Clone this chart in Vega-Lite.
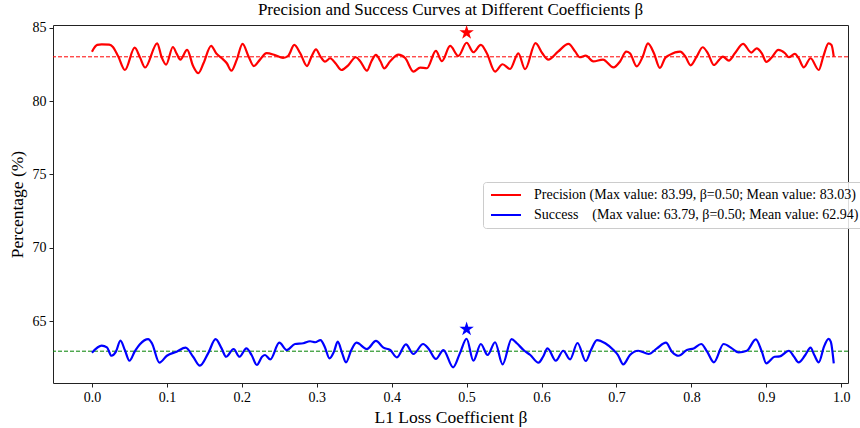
{
  "$schema": "https://vega.github.io/schema/vega-lite/v6.json",
  "autosize": {"type": "none"},
  "width": 795,
  "height": 358,
  "padding": {"left": 53, "top": 25, "right": 12, "bottom": 45},
  "config": {
    "font": "Liberation Serif",
    "view": {"stroke": "#222", "strokeWidth": 1},
    "axis": {"grid": false, "domain": false, "tickColor": "#222", "tickSize": 4, "labelColor": "#000", "titleColor": "#000", "labelFontSize": 14, "titleFontSize": 17.5, "titleFontWeight": "normal", "labelFont": "Liberation Serif", "titleFont": "Liberation Serif"},
    "legend": {"labelFont": "Liberation Serif"}
  },
  "title": {"text": "Precision and Success Curves at Different Coefficients β", "fontSize": 17, "fontWeight": "normal", "font": "Liberation Serif", "color": "#000", "offset": 2, "anchor": "middle"},
  "datasets": {
    "curves": [
      {"b":0.000,"v":83.38,"s":"Precision"},{"b":0.007,"v":83.84,"s":"Precision"},{"b":0.013,"v":83.88,"s":"Precision"},{"b":0.023,"v":83.86,"s":"Precision"},{"b":0.028,"v":83.70,"s":"Precision"},{"b":0.035,"v":83.06,"s":"Precision"},{"b":0.044,"v":82.13,"s":"Precision"},{"b":0.057,"v":83.65,"s":"Precision"},{"b":0.064,"v":83.00,"s":"Precision"},{"b":0.071,"v":82.30,"s":"Precision"},{"b":0.087,"v":83.95,"s":"Precision"},{"b":0.093,"v":83.00,"s":"Precision"},{"b":0.099,"v":82.50,"s":"Precision"},{"b":0.108,"v":83.70,"s":"Precision"},{"b":0.113,"v":83.25,"s":"Precision"},{"b":0.118,"v":82.84,"s":"Precision"},{"b":0.127,"v":83.50,"s":"Precision"},{"b":0.135,"v":82.40,"s":"Precision"},{"b":0.142,"v":81.91,"s":"Precision"},{"b":0.149,"v":82.60,"s":"Precision"},{"b":0.159,"v":83.77,"s":"Precision"},{"b":0.166,"v":83.25,"s":"Precision"},{"b":0.173,"v":82.95,"s":"Precision"},{"b":0.180,"v":82.59,"s":"Precision"},{"b":0.186,"v":82.08,"s":"Precision"},{"b":0.193,"v":82.80,"s":"Precision"},{"b":0.201,"v":83.91,"s":"Precision"},{"b":0.209,"v":83.05,"s":"Precision"},{"b":0.216,"v":82.40,"s":"Precision"},{"b":0.224,"v":82.82,"s":"Precision"},{"b":0.233,"v":83.28,"s":"Precision"},{"b":0.244,"v":83.15,"s":"Precision"},{"b":0.255,"v":82.95,"s":"Precision"},{"b":0.262,"v":83.10,"s":"Precision"},{"b":0.270,"v":83.84,"s":"Precision"},{"b":0.278,"v":83.27,"s":"Precision"},{"b":0.287,"v":82.40,"s":"Precision"},{"b":0.293,"v":83.04,"s":"Precision"},{"b":0.299,"v":83.54,"s":"Precision"},{"b":0.305,"v":83.04,"s":"Precision"},{"b":0.311,"v":82.70,"s":"Precision"},{"b":0.318,"v":82.93,"s":"Precision"},{"b":0.325,"v":82.59,"s":"Precision"},{"b":0.333,"v":82.13,"s":"Precision"},{"b":0.342,"v":82.45,"s":"Precision"},{"b":0.352,"v":83.00,"s":"Precision"},{"b":0.358,"v":82.73,"s":"Precision"},{"b":0.367,"v":82.08,"s":"Precision"},{"b":0.373,"v":82.73,"s":"Precision"},{"b":0.379,"v":83.16,"s":"Precision"},{"b":0.385,"v":82.73,"s":"Precision"},{"b":0.390,"v":82.24,"s":"Precision"},{"b":0.398,"v":82.73,"s":"Precision"},{"b":0.409,"v":83.18,"s":"Precision"},{"b":0.418,"v":82.95,"s":"Precision"},{"b":0.429,"v":82.02,"s":"Precision"},{"b":0.438,"v":82.29,"s":"Precision"},{"b":0.447,"v":82.25,"s":"Precision"},{"b":0.459,"v":83.43,"s":"Precision"},{"b":0.467,"v":82.73,"s":"Precision"},{"b":0.478,"v":83.77,"s":"Precision"},{"b":0.489,"v":83.09,"s":"Precision"},{"b":0.500,"v":83.99,"s":"Precision"},{"b":0.509,"v":83.34,"s":"Precision"},{"b":0.519,"v":83.84,"s":"Precision"},{"b":0.527,"v":83.27,"s":"Precision"},{"b":0.538,"v":82.02,"s":"Precision"},{"b":0.548,"v":82.52,"s":"Precision"},{"b":0.558,"v":82.20,"s":"Precision"},{"b":0.569,"v":83.27,"s":"Precision"},{"b":0.578,"v":82.18,"s":"Precision"},{"b":0.592,"v":83.96,"s":"Precision"},{"b":0.601,"v":83.27,"s":"Precision"},{"b":0.609,"v":82.84,"s":"Precision"},{"b":0.622,"v":83.38,"s":"Precision"},{"b":0.636,"v":83.91,"s":"Precision"},{"b":0.645,"v":83.38,"s":"Precision"},{"b":0.651,"v":83.00,"s":"Precision"},{"b":0.659,"v":83.11,"s":"Precision"},{"b":0.669,"v":82.72,"s":"Precision"},{"b":0.682,"v":82.84,"s":"Precision"},{"b":0.696,"v":82.31,"s":"Precision"},{"b":0.705,"v":82.73,"s":"Precision"},{"b":0.713,"v":83.38,"s":"Precision"},{"b":0.718,"v":83.27,"s":"Precision"},{"b":0.727,"v":82.38,"s":"Precision"},{"b":0.735,"v":83.04,"s":"Precision"},{"b":0.742,"v":83.95,"s":"Precision"},{"b":0.750,"v":83.27,"s":"Precision"},{"b":0.758,"v":82.27,"s":"Precision"},{"b":0.765,"v":82.95,"s":"Precision"},{"b":0.771,"v":83.16,"s":"Precision"},{"b":0.785,"v":83.38,"s":"Precision"},{"b":0.792,"v":83.04,"s":"Precision"},{"b":0.799,"v":82.45,"s":"Precision"},{"b":0.807,"v":83.04,"s":"Precision"},{"b":0.815,"v":83.68,"s":"Precision"},{"b":0.822,"v":83.27,"s":"Precision"},{"b":0.830,"v":82.47,"s":"Precision"},{"b":0.837,"v":82.82,"s":"Precision"},{"b":0.842,"v":83.04,"s":"Precision"},{"b":0.850,"v":82.77,"s":"Precision"},{"b":0.858,"v":83.27,"s":"Precision"},{"b":0.869,"v":83.91,"s":"Precision"},{"b":0.880,"v":83.32,"s":"Precision"},{"b":0.887,"v":83.61,"s":"Precision"},{"b":0.894,"v":83.27,"s":"Precision"},{"b":0.900,"v":82.68,"s":"Precision"},{"b":0.908,"v":83.04,"s":"Precision"},{"b":0.916,"v":83.50,"s":"Precision"},{"b":0.925,"v":83.27,"s":"Precision"},{"b":0.930,"v":83.00,"s":"Precision"},{"b":0.938,"v":83.23,"s":"Precision"},{"b":0.943,"v":82.95,"s":"Precision"},{"b":0.950,"v":82.31,"s":"Precision"},{"b":0.959,"v":82.93,"s":"Precision"},{"b":0.970,"v":82.13,"s":"Precision"},{"b":0.976,"v":83.04,"s":"Precision"},{"b":0.983,"v":83.95,"s":"Precision"},{"b":0.987,"v":83.84,"s":"Precision"},{"b":0.990,"v":83.04,"s":"Precision"},
      {"b":0.000,"v":62.84,"s":"Success"},{"b":0.013,"v":63.32,"s":"Success"},{"b":0.020,"v":63.20,"s":"Success"},{"b":0.026,"v":62.63,"s":"Success"},{"b":0.032,"v":62.91,"s":"Success"},{"b":0.038,"v":63.66,"s":"Success"},{"b":0.044,"v":63.00,"s":"Success"},{"b":0.050,"v":62.29,"s":"Success"},{"b":0.057,"v":62.91,"s":"Success"},{"b":0.064,"v":63.41,"s":"Success"},{"b":0.075,"v":63.76,"s":"Success"},{"b":0.080,"v":63.48,"s":"Success"},{"b":0.090,"v":62.16,"s":"Success"},{"b":0.100,"v":62.63,"s":"Success"},{"b":0.113,"v":62.91,"s":"Success"},{"b":0.125,"v":63.18,"s":"Success"},{"b":0.135,"v":62.56,"s":"Success"},{"b":0.144,"v":61.95,"s":"Success"},{"b":0.155,"v":62.79,"s":"Success"},{"b":0.165,"v":63.76,"s":"Success"},{"b":0.173,"v":63.13,"s":"Success"},{"b":0.179,"v":62.56,"s":"Success"},{"b":0.189,"v":63.09,"s":"Success"},{"b":0.197,"v":62.56,"s":"Success"},{"b":0.206,"v":63.13,"s":"Success"},{"b":0.213,"v":62.68,"s":"Success"},{"b":0.220,"v":62.00,"s":"Success"},{"b":0.227,"v":62.56,"s":"Success"},{"b":0.231,"v":62.68,"s":"Success"},{"b":0.238,"v":62.38,"s":"Success"},{"b":0.250,"v":63.52,"s":"Success"},{"b":0.260,"v":63.02,"s":"Success"},{"b":0.271,"v":63.43,"s":"Success"},{"b":0.282,"v":63.48,"s":"Success"},{"b":0.291,"v":63.62,"s":"Success"},{"b":0.298,"v":63.55,"s":"Success"},{"b":0.305,"v":63.70,"s":"Success"},{"b":0.311,"v":63.20,"s":"Success"},{"b":0.317,"v":62.45,"s":"Success"},{"b":0.323,"v":62.91,"s":"Success"},{"b":0.328,"v":63.59,"s":"Success"},{"b":0.334,"v":62.79,"s":"Success"},{"b":0.339,"v":62.18,"s":"Success"},{"b":0.346,"v":63.00,"s":"Success"},{"b":0.353,"v":63.52,"s":"Success"},{"b":0.367,"v":63.09,"s":"Success"},{"b":0.379,"v":63.64,"s":"Success"},{"b":0.389,"v":63.18,"s":"Success"},{"b":0.398,"v":63.02,"s":"Success"},{"b":0.407,"v":62.52,"s":"Success"},{"b":0.419,"v":63.41,"s":"Success"},{"b":0.429,"v":62.75,"s":"Success"},{"b":0.442,"v":63.43,"s":"Success"},{"b":0.449,"v":63.13,"s":"Success"},{"b":0.459,"v":62.41,"s":"Success"},{"b":0.469,"v":63.02,"s":"Success"},{"b":0.482,"v":61.84,"s":"Success"},{"b":0.491,"v":62.79,"s":"Success"},{"b":0.500,"v":63.79,"s":"Success"},{"b":0.509,"v":62.29,"s":"Success"},{"b":0.519,"v":63.43,"s":"Success"},{"b":0.528,"v":62.68,"s":"Success"},{"b":0.538,"v":63.55,"s":"Success"},{"b":0.548,"v":62.04,"s":"Success"},{"b":0.560,"v":63.76,"s":"Success"},{"b":0.567,"v":63.48,"s":"Success"},{"b":0.576,"v":63.02,"s":"Success"},{"b":0.585,"v":62.68,"s":"Success"},{"b":0.596,"v":62.16,"s":"Success"},{"b":0.602,"v":62.56,"s":"Success"},{"b":0.608,"v":63.13,"s":"Success"},{"b":0.619,"v":62.29,"s":"Success"},{"b":0.629,"v":62.97,"s":"Success"},{"b":0.638,"v":62.38,"s":"Success"},{"b":0.648,"v":63.50,"s":"Success"},{"b":0.659,"v":62.27,"s":"Success"},{"b":0.666,"v":63.02,"s":"Success"},{"b":0.674,"v":63.70,"s":"Success"},{"b":0.685,"v":63.48,"s":"Success"},{"b":0.696,"v":63.02,"s":"Success"},{"b":0.702,"v":62.68,"s":"Success"},{"b":0.709,"v":62.04,"s":"Success"},{"b":0.718,"v":62.68,"s":"Success"},{"b":0.729,"v":62.97,"s":"Success"},{"b":0.743,"v":62.75,"s":"Success"},{"b":0.754,"v":63.13,"s":"Success"},{"b":0.766,"v":63.52,"s":"Success"},{"b":0.774,"v":62.91,"s":"Success"},{"b":0.783,"v":62.63,"s":"Success"},{"b":0.794,"v":63.02,"s":"Success"},{"b":0.803,"v":63.13,"s":"Success"},{"b":0.813,"v":63.43,"s":"Success"},{"b":0.821,"v":62.91,"s":"Success"},{"b":0.830,"v":62.18,"s":"Success"},{"b":0.843,"v":63.43,"s":"Success"},{"b":0.854,"v":63.13,"s":"Success"},{"b":0.863,"v":62.86,"s":"Success"},{"b":0.874,"v":62.97,"s":"Success"},{"b":0.886,"v":63.75,"s":"Success"},{"b":0.894,"v":62.91,"s":"Success"},{"b":0.900,"v":62.11,"s":"Success"},{"b":0.911,"v":62.56,"s":"Success"},{"b":0.918,"v":62.59,"s":"Success"},{"b":0.930,"v":62.97,"s":"Success"},{"b":0.937,"v":62.56,"s":"Success"},{"b":0.943,"v":62.18,"s":"Success"},{"b":0.952,"v":62.68,"s":"Success"},{"b":0.959,"v":63.18,"s":"Success"},{"b":0.964,"v":62.68,"s":"Success"},{"b":0.970,"v":62.18,"s":"Success"},{"b":0.977,"v":63.25,"s":"Success"},{"b":0.983,"v":63.78,"s":"Success"},{"b":0.986,"v":63.59,"s":"Success"},{"b":0.990,"v":62.11,"s":"Success"}
    ]
  },
  "layer": [
    {
      "data": {"values": [{"m": 83.03}]},
      "mark": {"type": "rule", "color": "#ff0000", "strokeWidth": 1, "strokeDash": [4, 2]},
      "encoding": {"y": {"field": "m", "type": "quantitative"}}
    },
    {
      "data": {"values": [{"m": 62.94}]},
      "mark": {"type": "rule", "color": "#008000", "strokeWidth": 1, "strokeDash": [4, 2]},
      "encoding": {"y": {"field": "m", "type": "quantitative"}}
    },
    {
      "data": {"name": "curves"},
      "mark": {"type": "line", "interpolate": "monotone", "strokeWidth": 2.2},
      "encoding": {
        "x": {"field": "b", "type": "quantitative", "scale": {"domain": [-0.052, 1.009], "nice": false, "zero": false},
              "axis": {"values": [0, 0.1, 0.2, 0.3, 0.4, 0.5, 0.6, 0.7, 0.8, 0.9, 1.0], "format": ".1f", "title": "L1 Loss Coefficient β", "labelPadding": 3, "titlePadding": 4}},
        "y": {"field": "v", "type": "quantitative", "scale": {"domain": [60.77, 85.2], "nice": false, "zero": false},
              "axis": {"values": [65, 70, 75, 80, 85], "title": "Percentage (%)", "labelPadding": 3, "titlePadding": 6}},
        "color": {"field": "s", "type": "nominal",
                  "scale": {"domain": ["Precision", "Success"], "range": ["#ff0000", "#0000ff"]},
                  "legend": {"title": null, "orient": "none", "legendX": 430, "legendY": 157, "padding": 6, "rowPadding": 6,
                             "strokeColor": "#cccccc", "fillColor": "rgba(255,255,255,0.85)", "cornerRadius": 3,
                             "labelFontSize": 14, "labelColor": "#000", "symbolType": "M-1,0L5,0", "symbolSize": 100, "symbolStrokeWidth": 2, "labelOffset": 31,
                             "labelLimit": 500,
                             "labelExpr": "datum.label == 'Precision' ? 'Precision (Max value: 83.99, β=0.50; Mean value: 83.03)' : 'Success\u00a0\u00a0\u00a0\u00a0(Max value: 63.79, β=0.50; Mean value: 62.94)'"}}
      }
    },
    {
      "data": {"values": [{"b": 0.5, "v": 84.68}]},
      "mark": {"type": "point", "filled": true, "color": "#ff0000", "opacity": 1, "size": 230, "shape": "M0,-1L0.2245,-0.309L0.951,-0.309L0.363,0.118L0.588,0.809L0,0.382L-0.588,0.809L-0.363,0.118L-0.951,-0.309L-0.2245,-0.309Z"},
      "encoding": {"x": {"field": "b", "type": "quantitative"}, "y": {"field": "v", "type": "quantitative"}}
    },
    {
      "data": {"values": [{"b": 0.5, "v": 64.45}]},
      "mark": {"type": "point", "filled": true, "color": "#0000ff", "opacity": 1, "size": 230, "shape": "M0,-1L0.2245,-0.309L0.951,-0.309L0.363,0.118L0.588,0.809L0,0.382L-0.588,0.809L-0.363,0.118L-0.951,-0.309L-0.2245,-0.309Z"},
      "encoding": {"x": {"field": "b", "type": "quantitative"}, "y": {"field": "v", "type": "quantitative"}}
    }
  ]
}
